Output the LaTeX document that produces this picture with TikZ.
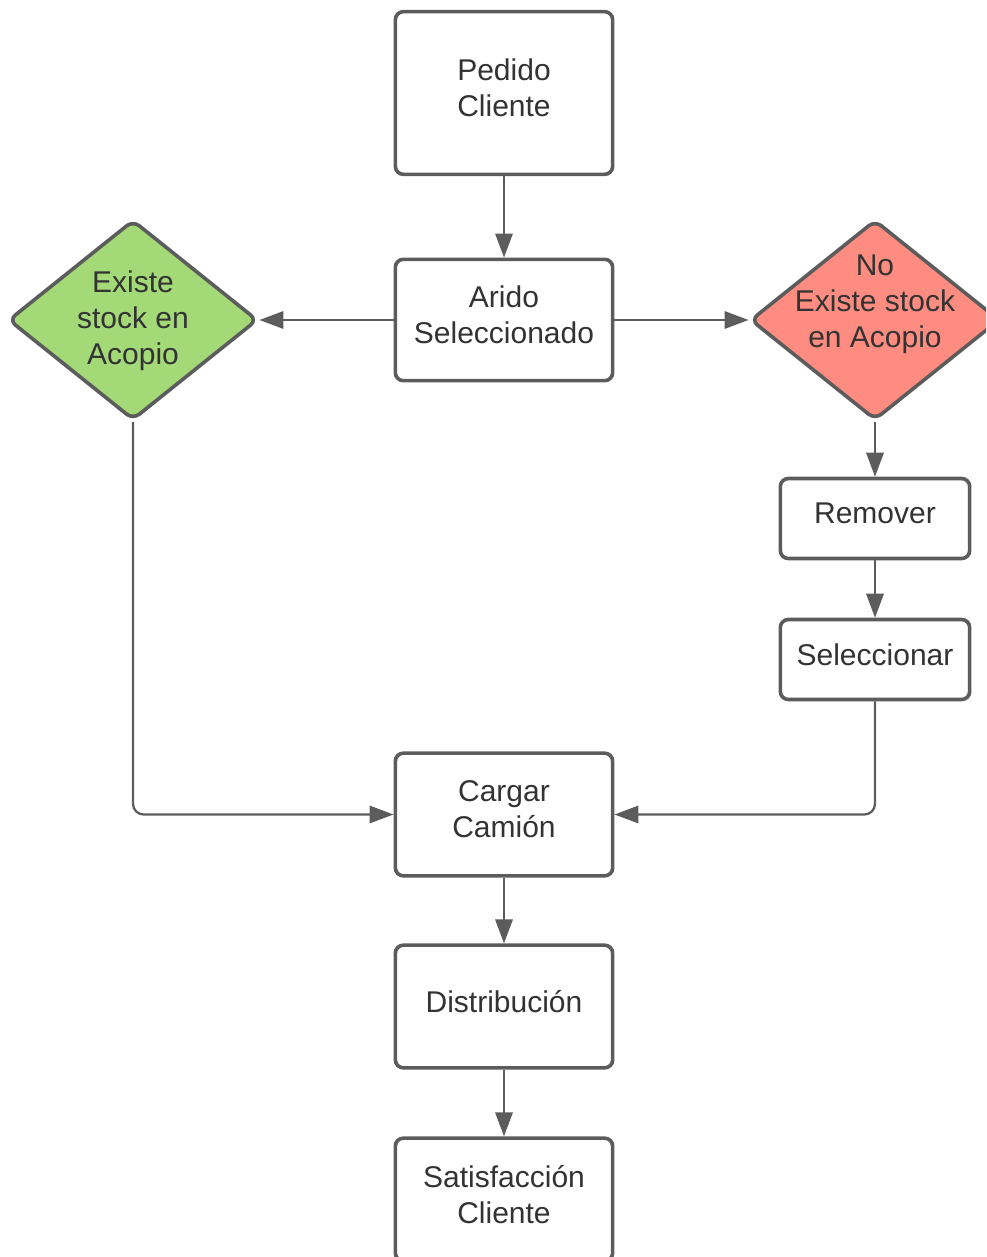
\documentclass[tikz,border=0pt]{standalone}
\usepackage{fontspec}
\setmainfont{Liberation Sans}
\usetikzlibrary{shapes.geometric,arrows.meta}
\definecolor{edgecol}{HTML}{5C5C5C}
\definecolor{txtcol}{HTML}{333333}
\definecolor{gfill}{HTML}{A3D977}
\definecolor{rfill}{HTML}{FF8C80}
\begin{document}
\begin{tikzpicture}[x=0.75pt,y=-0.75pt,
  every node/.style={font=\fontsize{22.5}{27}\selectfont, text=txtcol, align=center},
  box/.style={draw=edgecol, line width=2.7pt, rounded corners=6pt, fill=white, inner sep=0pt, minimum width=163pt, text depth=7.5pt},
  dia/.style={draw=edgecol, line width=2.7pt, rounded corners=6pt, diamond, inner sep=0pt, minimum width=187pt, minimum height=150pt},
  conn/.style={draw=edgecol, line width=1.7pt, -{Triangle[length=18pt,width=13pt]}}]
\useasboundingbox (0,0) rectangle (986,1257);
\clip (0,0) rectangle (986,1257);
\node[box, minimum height=122pt] (pedido) at (504,93) {Pedido\\Cliente};
\node[box, minimum height=91pt] (arido) at (504,320) {Arido\\Seleccionado};
\node[dia, fill=gfill] (ld) at (133,320) {};
\node (ldtext) at (133,321) {Existe\\stock en\\Acopio};
\node[dia, fill=rfill] (rd) at (875,320) {};
\node (rdtext) at (875,304) {No\\Existe stock\\en Acopio};
\node[box, minimum width=142pt, minimum height=60pt] (remover) at (875,518.5) {Remover};
\node[box, minimum width=142pt, minimum height=60pt] (selec) at (875,659.5) {Seleccionar};
\node[box, minimum height=92pt] (cargar) at (504,814.5) {Cargar\\Camión};
\node[box, minimum height=92pt] (distrib) at (504,1006.5) {Distribución};
\node[box, minimum height=92pt] (satis) at (504,1199.5) {Satisfacción\\Cliente};
\draw[conn] (pedido.south) -- (arido.north);
\draw[conn] (arido.west) -- (ld.east);
\draw[conn] (arido.east) -- (rd.west);
\draw[conn] (rd.south) -- (remover.north);
\draw[conn] (remover.south) -- (selec.north);
\draw[conn, rounded corners=8pt] (ld.south) |- (cargar.west);
\draw[conn, rounded corners=8pt] (selec.south) |- (cargar.east);
\draw[conn] (cargar.south) -- (distrib.north);
\draw[conn] (distrib.south) -- (satis.north);
\end{tikzpicture}
\end{document}
